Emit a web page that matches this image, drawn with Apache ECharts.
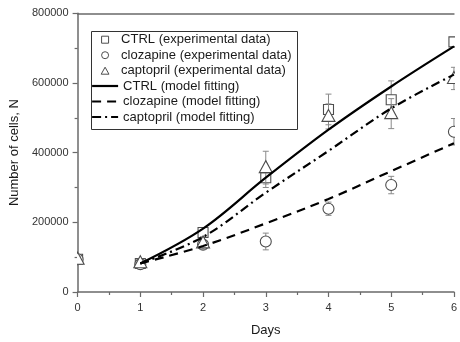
<!DOCTYPE html>
<html>
<head>
<meta charset="utf-8">
<script src="https://cdn.jsdelivr.net/npm/echarts@6/dist/echarts.min.js"></script>
<style>
  html, body { margin: 0; padding: 0; background: #fff; }
  #chart { width: 460px; height: 342px; }
</style>
</head>
<body>
<div id="chart"></div>
<script>
// Measured cell counts (mean and error) per day
const days = [0, 1, 2, 3, 4, 5, 6];
const ctrlMean = [94000, 82000, 171000, 328000, 524000, 552000, 718000];
const ctrlErr  = [6000, 6000, 10000, 28000, 44000, 54000, 12000];
const clozMean = [94000, 80000, 136000, 145000, 239000, 307000, 460000];
const clozErr  = [6000, 6000, 8000, 24000, 19000, 25000, 38000];
const captMean = [94000, 84000, 141000, 357000, 504000, 512000, 613000];
const captErr  = [8000, 10000, 18000, 47000, 36000, 43000, 32000];

// Model fitting curves
const fitDays = [1, 2, 3, 4, 5, 6];
const ctrlFit = [82000, 182000, 328000, 466000, 590000, 705000];
const clozFit = [82000, 132000, 197000, 267000, 347000, 427000];
const captFit = [82000, 158000, 285000, 405000, 527000, 624000];

// Axis ticks
const xTicks = [0, 1, 2, 3, 4, 5, 6];
const yTicks = [0, 200000, 400000, 600000, 800000];

const expNames = ['CTRL (experimental data)', 'clozapine (experimental data)', 'captopril (experimental data)'];
const fitNames = ['CTRL (model fitting)', 'clozapine (model fitting)', 'captopril (model fitting)'];

const FONT = 'Liberation Sans, Arial, sans-serif';
const MARK = '#4d4d4d';
const ERR = '#8a8a8a';
const DASH = [9, 6];
const DASH_DOT = [9, 4, 2, 4];

function zip3(a, b, c) { return a.map((v, i) => [v, b[i], c[i]]); }
function zip2(a, b) { return a.map((v, i) => [v, b[i]]); }

// Error bar with caps plus an open marker, drawn for one data point
function makeRender(shape) {
  return function (params, api) {
    const x = api.value(0), y = api.value(1), e = api.value(2);
    const c = api.coord([x, y]);
    const t = api.coord([x, y + e]);
    const b = api.coord([x, y - e]);
    const cap = 3;
    const line = { stroke: ERR, lineWidth: 1 };
    const children = [
      { type: 'line', shape: { x1: c[0], y1: t[1], x2: c[0], y2: b[1] }, style: line },
      { type: 'line', shape: { x1: c[0] - cap, y1: t[1], x2: c[0] + cap, y2: t[1] }, style: line },
      { type: 'line', shape: { x1: c[0] - cap, y1: b[1], x2: c[0] + cap, y2: b[1] }, style: line }
    ];
    const sym = { fill: '#fff', stroke: MARK, lineWidth: 1.1 };
    if (shape === 'square') {
      children.push({ type: 'rect', shape: { x: c[0] - 5, y: c[1] - 5, width: 10, height: 10 }, style: sym });
    } else if (shape === 'circle') {
      children.push({ type: 'circle', shape: { cx: c[0], cy: c[1], r: 5.5 }, style: sym });
    } else {
      children.push({ type: 'polygon', shape: { points: [[c[0], c[1] - 7], [c[0] + 6.5, c[1] + 5], [c[0] - 6.5, c[1] + 5]] }, style: sym });
    }
    return { type: 'group', children: children };
  };
}

const chart = echarts.init(document.getElementById('chart'), null, { renderer: 'canvas' });

const legendText = { fontFamily: FONT, fontSize: 13, color: '#1a1a1a' };
const iconStyle = { color: '#fff', borderColor: MARK, borderWidth: 1 };
const hiddenSymbol = { color: 'rgba(0,0,0,0)', borderWidth: 0, opacity: 0 };

chart.setOption({
  animation: false,
  backgroundColor: '#fff',
  textStyle: { fontFamily: FONT },
  grid: { left: 77.5, top: 13.3, width: 379.2, height: 285, containLabel: false },
  graphic: [{
    type: 'rect', z: 10,
    shape: { x: 91.5, y: 31.5, width: 206, height: 98 },
    style: { fill: 'none', stroke: '#333', lineWidth: 1 }
  }],
  legend: [{
    orient: 'vertical', left: 100.7, top: 33.2,
    itemWidth: 22, itemHeight: 7, itemGap: 2.5, padding: 0,
    selectedMode: false, symbolKeepAspect: true,
    textStyle: legendText,
    data: [
      { name: expNames[0], icon: 'path://M0,0H10V10H0Z', itemStyle: iconStyle },
      { name: expNames[1], icon: 'path://M5,0A5,5,0,1,1,4.99,0Z', itemStyle: iconStyle },
      { name: expNames[2], icon: 'path://M5,0L10,9L0,9Z', itemStyle: iconStyle }
    ]
  }, {
    orient: 'vertical', left: 91, top: 79.5,
    itemWidth: 26, itemHeight: 10, itemGap: 2.5, padding: 0,
    selectedMode: false,
    textStyle: legendText,
    data: [
      { name: fitNames[0], itemStyle: hiddenSymbol, lineStyle: { color: '#000', width: 2.2, type: 'solid' } },
      { name: fitNames[1], itemStyle: hiddenSymbol, lineStyle: { color: '#000', width: 2.2, type: DASH } },
      { name: fitNames[2], itemStyle: hiddenSymbol, lineStyle: { color: '#000', width: 2.2, type: DASH_DOT } }
    ]
  }],
  xAxis: [{
    type: 'value', min: 0, max: 6, interval: 1,
    name: 'Days', nameLocation: 'middle', nameGap: 32,
    nameTextStyle: { fontFamily: FONT, fontSize: 13, color: '#1a1a1a' },
    axisLine: { show: true, onZero: false, lineStyle: { color: '#6a6a6a', width: 1.5 } },
    axisTick: { show: true, inside: false, length: 5, lineStyle: { color: '#6a6a6a', width: 1.2 } },
    minorTick: { show: true, splitNumber: 2, length: 3, lineStyle: { color: '#6a6a6a', width: 1.2 } },
    splitLine: { show: false },
    axisLabel: {
      margin: 10, fontFamily: FONT, fontSize: 11, color: '#333',
      formatter: v => (xTicks.indexOf(v) >= 0 ? String(v) : '')
    }
  }, {
    type: 'value', min: 0, max: 6, position: 'top',
    axisLine: { show: true, onZero: false, lineStyle: { color: '#6a6a6a', width: 1.5 } },
    axisTick: { show: false }, axisLabel: { show: false }, splitLine: { show: false }
  }],
  yAxis: {
    type: 'value', min: 0, max: 800000, interval: 200000,
    name: 'Number of cells, N', nameLocation: 'middle', nameGap: 52,
    nameTextStyle: { fontFamily: FONT, fontSize: 13, color: '#1a1a1a' },
    axisLine: { show: true, onZero: false, lineStyle: { color: '#6a6a6a', width: 1.5 } },
    axisTick: { show: true, inside: false, length: 5, lineStyle: { color: '#6a6a6a', width: 1.2 } },
    minorTick: { show: true, splitNumber: 2, length: 3, lineStyle: { color: '#6a6a6a', width: 1.2 } },
    splitLine: { show: false },
    axisLabel: {
      margin: 9, fontFamily: FONT, fontSize: 11, color: '#333',
      formatter: v => (yTicks.indexOf(v) >= 0 ? String(v) : '')
    }
  },
  series: [
    { name: expNames[0], type: 'custom', clip: true, renderItem: makeRender('square'), data: zip3(days, ctrlMean, ctrlErr), z: 2 },
    { name: expNames[1], type: 'custom', clip: true, renderItem: makeRender('circle'), data: zip3(days, clozMean, clozErr), z: 2 },
    { name: expNames[2], type: 'custom', clip: true, renderItem: makeRender('triangle'), data: zip3(days, captMean, captErr), z: 2 },
    { name: fitNames[0], type: 'line', smooth: 0.35, symbol: 'none', data: zip2(fitDays, ctrlFit), z: 3,
      lineStyle: { color: '#000', width: 2.2, type: 'solid' }, itemStyle: { color: '#000' } },
    { name: fitNames[1], type: 'line', smooth: 0.35, symbol: 'none', data: zip2(fitDays, clozFit), z: 3,
      lineStyle: { color: '#000', width: 2.2, type: DASH }, itemStyle: { color: '#000' } },
    { name: fitNames[2], type: 'line', smooth: 0.35, symbol: 'none', data: zip2(fitDays, captFit), z: 3,
      lineStyle: { color: '#000', width: 2.2, type: DASH_DOT }, itemStyle: { color: '#000' } }
  ]
});
</script>
</body>
</html>
